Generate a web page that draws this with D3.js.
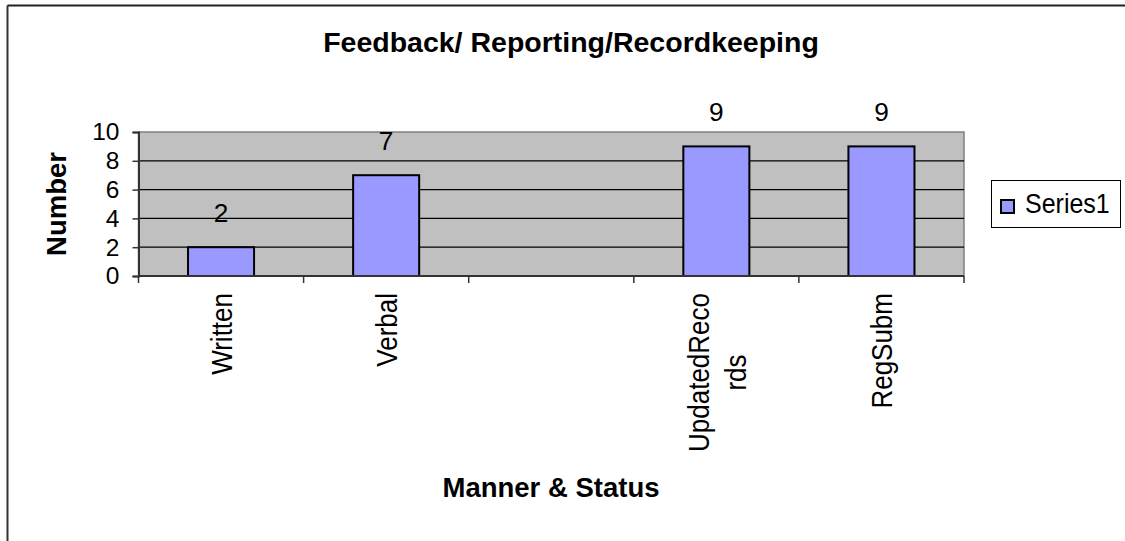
<!DOCTYPE html>
<html>
<head>
<meta charset="utf-8">
<script src="https://cdn.jsdelivr.net/npm/d3@7"></script>
<style>
  html, body { margin: 0; padding: 0; background: #fff; }
  svg { display: block; font-family: "Liberation Sans", Arial, sans-serif; }
</style>
</head>
<body>
<svg id="chart" width="1125" height="541"></svg>
<script>
// ---- data ----
const categories = ["Written", "Verbal", "", "UpdatedRecords", "RegSubm"];
const categoryLabelLines = [["Written"], ["Verbal"], [""], ["UpdatedReco", "rds"], ["RegSubm"]];
const values = [2, 7, null, 9, 9];
const yTicks = [0, 2, 4, 6, 8, 10];
const seriesName = "Series1";
const chartTitle = "Feedback/ Reporting/Recordkeeping";
const xTitle = "Manner & Status";
const yTitle = "Number";

// ---- layout ----
const svg = d3.select("#chart");
const W = 1125, H = 541;
const plot = { left: 138.5, right: 964, top: 132, bottom: 276 };

// outer chart border (extends past the image on the right/bottom)
svg.append("line").attr("x1", 7.5).attr("y1", 5.5).attr("x2", W).attr("y2", 5.5)
  .attr("stroke", "#222").attr("stroke-width", 2);
svg.append("line").attr("x1", 7.5).attr("y1", 5.5).attr("x2", 7.5).attr("y2", H)
  .attr("stroke", "#333").attr("stroke-width", 2);

const x = d3.scaleBand()
  .domain(d3.range(categories.length))
  .range([plot.left, plot.right])
  .paddingInner(0.6)
  .paddingOuter(0.3);
const step = x.step();

const y = d3.scaleLinear().domain([0, 10]).range([plot.bottom, plot.top]);

// plot background
svg.append("rect")
  .attr("x", plot.left).attr("y", plot.top)
  .attr("width", plot.right - plot.left).attr("height", plot.bottom - plot.top)
  .attr("fill", "#C0C0C0")
  .attr("stroke", "#808080").attr("stroke-width", 1.5);

// gridlines
svg.append("g")
  .selectAll("line")
  .data(yTicks.filter(d => d > 0 && d < 10))
  .join("line")
  .attr("x1", plot.left).attr("x2", plot.right)
  .attr("y1", d => y(d)).attr("y2", d => y(d))
  .attr("stroke", "#000").attr("stroke-width", 1.2);

// bars
svg.append("g")
  .selectAll("rect")
  .data(values.map((v, i) => ({ v, i })).filter(d => d.v != null))
  .join("rect")
  .attr("x", d => x(d.i))
  .attr("y", d => y(d.v))
  .attr("width", x.bandwidth())
  .attr("height", d => y(0) - y(d.v))
  .attr("fill", "#9999FF")
  .attr("stroke", "#000").attr("stroke-width", 2);

// data labels
svg.append("g")
  .selectAll("text")
  .data(values.map((v, i) => ({ v, i })).filter(d => d.v != null))
  .join("text")
  .attr("transform", d => `translate(${x(d.i) + x.bandwidth() / 2},${y(d.v) - 25}) scale(1.05,1.03)`)
  .attr("text-anchor", "middle")
  .attr("font-size", 25)
  .attr("fill", "#000")
  .text(d => d.v);

// y axis
const yAxis = d3.axisLeft(y).tickValues(yTicks).tickSize(6).tickPadding(13).tickFormat(d3.format("d"));
const gy = svg.append("g").attr("transform", `translate(${plot.left},0)`).call(yAxis);
gy.select(".domain").attr("stroke", "#333").attr("stroke-width", 2);
gy.selectAll(".tick line").attr("stroke", "#333").attr("stroke-width", 1.5);
gy.selectAll(".tick text").attr("font-size", 24.5).attr("fill", "#000")
  .attr("font-family", "'Liberation Sans', Arial, sans-serif");

// x axis line and ticks at slot boundaries
svg.append("line")
  .attr("x1", plot.left).attr("x2", plot.right)
  .attr("y1", plot.bottom).attr("y2", plot.bottom)
  .attr("stroke", "#333").attr("stroke-width", 2);
const boundaries = d3.range(categories.length + 1).map(i => plot.left + i * step);
svg.append("g").selectAll("line")
  .data(boundaries)
  .join("line")
  .attr("x1", d => d).attr("x2", d => d)
  .attr("y1", plot.bottom).attr("y2", plot.bottom + 7)
  .attr("stroke", "#333").attr("stroke-width", 1.5);

// category labels (rotated, multiline centred)
const catFont = 26, lineGap = 37, labelTop = 293, stretch = 1.17;
const measure = svg.append("text").attr("font-size", catFont).attr("visibility", "hidden");
categoryLabelLines.forEach((lines, i) => {
  const lens = lines.map(l => { measure.text(l); return measure.node().getComputedTextLength(); });
  const L = d3.max(lens);
  const cx = x(i) + x.bandwidth() / 2;
  const n = lines.length;
  const g = svg.append("g");
  lines.forEach((l, j) => {
    const base = cx + (j - (n - 1) / 2) * lineGap + catFont * 0.36 * stretch;
    const midY = labelTop + L / 2;
    g.append("text")
      .attr("transform", `translate(${base},${midY}) scale(${stretch},1) rotate(-90)`)
      .attr("text-anchor", "middle")
      .attr("font-size", catFont)
      .attr("fill", "#000")
      .text(l);
  });
});
measure.remove();

// titles
svg.append("text")
  .attr("x", 571).attr("y", 52)
  .attr("text-anchor", "middle")
  .attr("font-size", 28.5).attr("font-weight", "bold")
  .text(chartTitle);

svg.append("text")
  .attr("x", 551).attr("y", 497)
  .attr("text-anchor", "middle")
  .attr("font-size", 27.5).attr("font-weight", "bold")
  .text(xTitle);

svg.append("text")
  .attr("transform", `translate(66,${(plot.top + plot.bottom) / 2}) rotate(-90)`)
  .attr("text-anchor", "middle")
  .attr("font-size", 27.5).attr("font-weight", "bold")
  .text(yTitle);

// legend
const lg = svg.append("g");
lg.append("rect").attr("x", 991.5).attr("y", 180.5).attr("width", 129).attr("height", 47)
  .attr("fill", "#fff").attr("stroke", "#000").attr("stroke-width", 1);
lg.append("rect").attr("x", 1001).attr("y", 200).attr("width", 13).attr("height", 13)
  .attr("fill", "#9999FF").attr("stroke", "#000").attr("stroke-width", 2);
lg.append("text").attr("transform", "translate(1025,213) scale(1,1.1)")
  .attr("font-size", 25).attr("fill", "#000").text(seriesName);
</script>
</body>
</html>
